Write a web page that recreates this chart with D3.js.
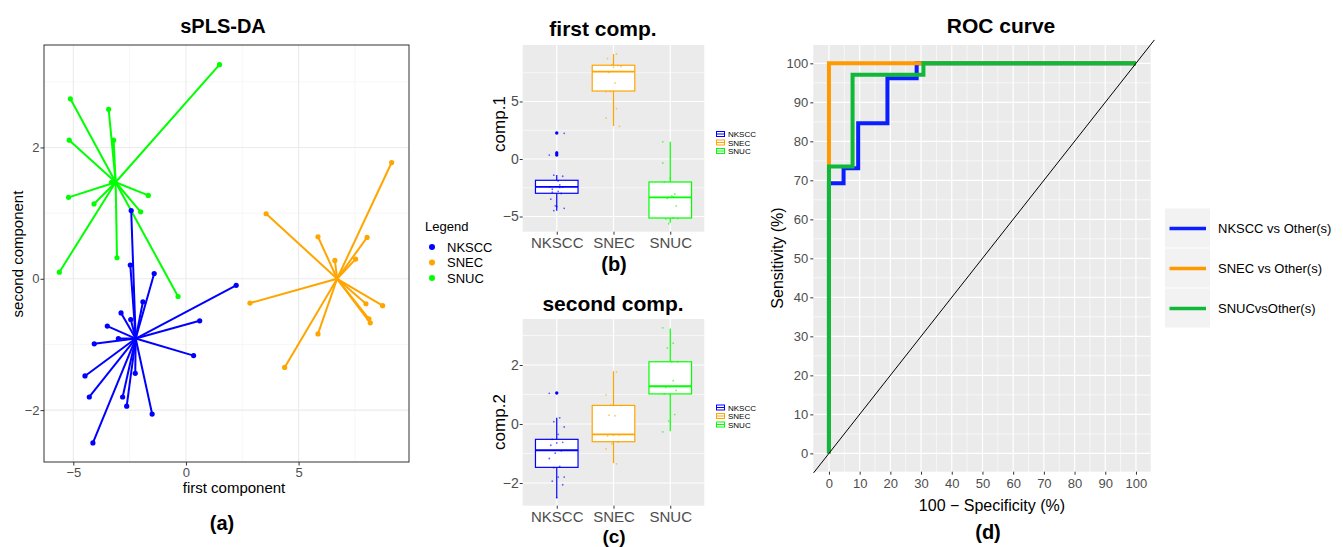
<!DOCTYPE html>
<html>
<head>
<meta charset="utf-8">
<script src="https://cdn.jsdelivr.net/npm/d3@7"></script>
<style>
  body { margin: 0; background: #fff; }
  svg text { font-family: 'Liberation Sans', Arial, sans-serif; }
</style>
</head>
<body>
<div id="chart-area"></div>
<script>
// groups and colours
var groups = ["NKSCC", "SNEC", "SNUC"];
var groupColors = ["#0000ff", "#ffa500", "#00ff00"];

// sPLS-DA scores
var nksccComp1 = [-2.43, -2.47, -1.41, 2.23, -1.91, -2.88, -2.45, 0.61, -3.49, -3.00, -4.07, 0.34, -2.25, -4.48, -4.29, -2.81, -2.63, -1.50, -4.13];
var nksccComp2 = [1.04, 0.21, 0.08, -0.10, -0.35, -0.52, -0.62, -0.64, -0.72, -0.91, -0.99, -1.17, -1.44, -1.48, -1.80, -1.80, -1.94, -2.06, -2.50];
var snecComp1 = [3.56, 9.13, 5.86, 8.04, 6.61, 7.53, 2.84, 7.99, 8.73, 8.12, 8.18, 5.86, 4.38];
var snecComp2 = [0.99, 1.77, 0.64, 0.63, 0.28, 0.30, -0.37, -0.38, -0.41, -0.61, -0.67, -0.84, -1.35];
var snucComp1 = [1.49, -5.13, -3.43, -5.18, -3.21, -5.21, -4.08, -1.67, -2.01, -3.06, -5.62, -0.35, -3.30];
var snucComp2 = [3.26, 2.74, 2.58, 2.11, 2.11, 1.24, 1.14, 1.27, 1.02, 0.32, 0.10, -0.27, 1.47];
var centroidComp1 = [-2.23, 6.71, -3.12];
var centroidComp2 = [-0.91, 0.00, 1.47];

// box plot statistics (b) and (c)
var comp1Lower = [-4.50, 2.87, -5.54];
var comp1Q1 = [-2.98, 5.91, -5.13];
var comp1Median = [-2.43, 7.59, -3.33];
var comp1Q3 = [-1.85, 8.15, -2.00];
var comp1Upper = [-1.39, 9.13, 1.50];
var comp1Outliers = [[2.26, 0.52, 0.35], [], []];
var comp2Lower = [-2.51, -1.33, -0.25];
var comp2Q1 = [-1.47, -0.60, 1.02];
var comp2Median = [-0.89, -0.35, 1.28];
var comp2Q3 = [-0.52, 0.63, 2.11];
var comp2Upper = [0.21, 1.79, 3.24];
var comp2Outliers = [[1.05], [], []];

// ROC curves (100 - specificity, sensitivity)
var rocNames = ["NKSCC vs Other(s)", "SNEC vs Other(s)", "SNUCvsOther(s)"];
var rocColors = ["#0a1eff", "#ff9900", "#10b83a"];
var nksccFpr = [0, 0, 4.76, 4.76, 9.52, 9.52, 19.05, 19.05, 28.57, 28.57, 100];
var nksccTpr = [0, 69.23, 69.23, 73.08, 73.08, 84.62, 84.62, 96.15, 96.15, 100, 100];
var snecFpr = [0, 0, 100];
var snecTpr = [0, 100, 100];
var snucFpr = [0, 0, 7.69, 7.69, 30.77, 30.77, 100];
var snucTpr = [0, 73.53, 73.53, 97.06, 97.06, 100, 100];
var diagonal = [-5, 106];

// tick values
var aTicksX = [-5, 0, 5], aMinorX = [-2.5, 2.5, 7.5];
var aTicksY = [-2, 0, 2], aMinorY = [-1, 1, 3];
var bTicksY = [-5, 0, 5], bMinorY = [-2.5, 2.5, 7.5];
var cTicksY = [-2, 0, 2], cMinorY = [-1, 1, 3];
var dTicks = d3.range(0, 101, 10), dMinor = d3.range(5, 100, 10);

var svg = d3.select("#chart-area").append("svg")
    .attr("width", 1343).attr("height", 547);

function fmt(d) { return d < 0 ? "\u2212" + Math.abs(d) : "" + d; }

function styleAxis(ax, size, color) {
    ax.select(".domain").remove();
    ax.selectAll(".tick line").attr("stroke", "#333");
    ax.selectAll(".tick text").attr("fill", color || "#4d4d4d")
        .style("font-size", size + "px");
}

function title(txt, x, y, size) {
    svg.append("text").text(txt).attr("x", x).attr("y", y)
        .attr("text-anchor", "middle").attr("font-weight", "bold")
        .style("font-size", size + "px");
}

function label(txt, x, y, size, rotate) {
    var t = svg.append("text").text(txt).attr("text-anchor", "middle")
        .style("font-size", size + "px");
    if (rotate) t.attr("transform", "translate(" + x + "," + y + ") rotate(-90)");
    else t.attr("x", x).attr("y", y);
}

// ---------- panel (a) ----------
var xA = d3.scaleLinear().domain([-6.3, 9.9]).range([44, 409]);
var yA = d3.scaleLinear().domain([-2.79, 3.56]).range([462, 45]);
var gA = svg.append("g");

gA.selectAll(".vminor").data(aMinorX).enter().append("line")
    .attr("x1", xA).attr("x2", xA).attr("y1", 45).attr("y2", 462)
    .attr("stroke", "#f2f2f2").attr("stroke-width", 0.7);
gA.selectAll(".hminor").data(aMinorY).enter().append("line")
    .attr("y1", yA).attr("y2", yA).attr("x1", 44).attr("x2", 409)
    .attr("stroke", "#f2f2f2").attr("stroke-width", 0.7);
gA.selectAll(".vmajor").data(aTicksX).enter().append("line")
    .attr("x1", xA).attr("x2", xA).attr("y1", 45).attr("y2", 462)
    .attr("stroke", "#ebebeb").attr("stroke-width", 1.1);
gA.selectAll(".hmajor").data(aTicksY).enter().append("line")
    .attr("y1", yA).attr("y2", yA).attr("x1", 44).attr("x2", 409)
    .attr("stroke", "#ebebeb").attr("stroke-width", 1.1);

var scoreSets = [
    { c1: nksccComp1, c2: nksccComp2 },
    { c1: snecComp1, c2: snecComp2 },
    { c1: snucComp1, c2: snucComp2 }
];
var drawOrder = [1, 2, 0];
drawOrder.forEach(function(gi) {
    var s = scoreSets[gi];
    var pts = s.c1.map(function(v, i) { return { x: v, y: s.c2[i] }; });
    var grp = gA.append("g");
    grp.selectAll("line").data(pts).enter().append("line")
        .attr("x1", xA(centroidComp1[gi])).attr("y1", yA(centroidComp2[gi]))
        .attr("x2", function(d) { return xA(d.x); })
        .attr("y2", function(d) { return yA(d.y); })
        .attr("stroke", groupColors[gi]).attr("stroke-width", 2);
    grp.selectAll("circle").data(pts).enter().append("circle")
        .attr("cx", function(d) { return xA(d.x); })
        .attr("cy", function(d) { return yA(d.y); })
        .attr("r", 2.6).attr("fill", groupColors[gi]);
});

gA.append("rect").attr("x", 44).attr("y", 45).attr("width", 365).attr("height", 417)
    .attr("fill", "none").attr("stroke", "#333").attr("stroke-width", 1);

var axA = gA.append("g").attr("transform", "translate(0,462)")
    .call(d3.axisBottom(xA).tickValues(aTicksX).tickFormat(fmt).tickSize(3.5).tickPadding(2));
styleAxis(axA, 13);
var ayA = gA.append("g").attr("transform", "translate(44,0)")
    .call(d3.axisLeft(yA).tickValues(aTicksY).tickFormat(fmt).tickSize(3.5).tickPadding(1));
styleAxis(ayA, 13);

title("sPLS-DA", 223, 33, 20);
label("first component", 234, 493, 15);
label("second component", 23, 254, 15, true);
title("(a)", 222, 530, 20);

// legend (a)
svg.append("text").text("Legend").attr("x", 425).attr("y", 231).style("font-size", "13px");
groups.forEach(function(g, i) {
    svg.append("circle").attr("cx", 432).attr("cy", 247 + i * 15.5).attr("r", 3).attr("fill", groupColors[i]);
    svg.append("text").text(g).attr("x", 447).attr("y", 251.5 + i * 15.5).style("font-size", "13px");
});

// ---------- panels (b) and (c) ----------
function boxPanel(opt) {
    var x = d3.scalePoint().domain(groups).range([522.7, 704.3]).padding(0.6);
    var y = d3.scaleLinear().domain(opt.domain).range([opt.bottom, opt.top]);
    var g = svg.append("g");
    g.append("rect").attr("x", 522.7).attr("y", opt.top).attr("width", 181.6)
        .attr("height", opt.bottom - opt.top).attr("fill", "#ebebeb");
    g.selectAll(".minor").data(opt.minor).enter().append("line")
        .attr("x1", 522.7).attr("x2", 704.3).attr("y1", y).attr("y2", y)
        .attr("stroke", "#fff").attr("stroke-width", 0.6);
    g.selectAll(".major").data(opt.ticks).enter().append("line")
        .attr("x1", 522.7).attr("x2", 704.3).attr("y1", y).attr("y2", y)
        .attr("stroke", "#fff").attr("stroke-width", 1.2);
    g.selectAll(".vmajor").data(groups).enter().append("line")
        .attr("x1", x).attr("x2", x).attr("y1", opt.top).attr("y2", opt.bottom)
        .attr("stroke", "#fff").attr("stroke-width", 1.2);

    var bw = x.step() * 0.75;
    groups.forEach(function(grp, i) {
        var cx = x(grp), col = groupColors[i];
        g.append("line").attr("x1", cx).attr("x2", cx)
            .attr("y1", y(opt.upper[i])).attr("y2", y(opt.q3[i]))
            .attr("stroke", col).attr("stroke-width", 1.2);
        g.append("line").attr("x1", cx).attr("x2", cx)
            .attr("y1", y(opt.q1[i])).attr("y2", y(opt.lower[i]))
            .attr("stroke", col).attr("stroke-width", 1.2);
        g.append("rect").attr("x", cx - bw / 2).attr("width", bw)
            .attr("y", y(opt.q3[i])).attr("height", y(opt.q1[i]) - y(opt.q3[i]))
            .attr("fill", "#fff").attr("stroke", col).attr("stroke-width", 1.2);
        g.append("line").attr("x1", cx - bw / 2).attr("x2", cx + bw / 2)
            .attr("y1", y(opt.median[i])).attr("y2", y(opt.median[i]))
            .attr("stroke", col).attr("stroke-width", 1.8);
        g.selectAll(".out" + i).data(opt.outliers[i]).enter().append("circle")
            .attr("cx", cx).attr("cy", y).attr("r", 1.7).attr("fill", col);
        g.selectAll(".pt" + i).data(opt.points[i]).enter().append("circle")
            .attr("cx", function(d, j) { return cx + (((j * 7) % 11) / 10 - 0.5) * bw * 0.35; })
            .attr("cy", y).attr("r", 0.9).attr("fill", col).attr("opacity", 0.6);
    });

    var ax = g.append("g").attr("transform", "translate(0," + opt.bottom + ")")
        .call(d3.axisBottom(x).tickSize(3).tickPadding(3));
    styleAxis(ax, 15);
    var ay = g.append("g").attr("transform", "translate(522.7,0)")
        .call(d3.axisLeft(y).tickValues(opt.ticks).tickFormat(fmt).tickSize(3).tickPadding(1));
    styleAxis(ay, 14);

    // small legend
    groups.forEach(function(grp, i) {
        var ly = opt.legendY + i * 8.5;
        g.append("rect").attr("x", 716.5).attr("y", ly - 2.5).attr("width", 8).attr("height", 5)
            .attr("fill", "#fff").attr("stroke", groupColors[i]).attr("stroke-width", 1);
        g.append("line").attr("x1", 716.5).attr("x2", 724.5).attr("y1", ly).attr("y2", ly)
            .attr("stroke", groupColors[i]).attr("stroke-width", 1);
        g.append("text").text(grp).attr("x", 728).attr("y", ly + 3).style("font-size", "8px");
    });
}

boxPanel({
    domain: [-6.32, 9.91], top: 45, bottom: 231.7,
    ticks: bTicksY, minor: bMinorY,
    lower: comp1Lower, q1: comp1Q1, median: comp1Median, q3: comp1Q3, upper: comp1Upper,
    outliers: comp1Outliers, points: [nksccComp1, snecComp1, snucComp1], legendY: 134
});
boxPanel({
    domain: [-2.77, 3.56], top: 319, bottom: 505.7,
    ticks: cTicksY, minor: cMinorY,
    lower: comp2Lower, q1: comp2Q1, median: comp2Median, q3: comp2Q3, upper: comp2Upper,
    outliers: comp2Outliers, points: [nksccComp2, snecComp2, snucComp2], legendY: 407.5
});

title("first comp.", 603, 36, 21);
title("second comp.", 613, 310.5, 21);
label("comp.1", 505, 124, 17, true);
label("comp.2", 505, 422, 17, true);
title("(b)", 614, 271, 20);
title("(c)", 614, 543, 19);

// ---------- panel (d) ----------
var xD = d3.scaleLinear().domain([-5.1, 104.8]).range([813.3, 1150.7]);
var yD = d3.scaleLinear().domain([-4.7, 104.7]).range([471.7, 45]);
var gD = svg.append("g");
gD.append("rect").attr("x", 813.3).attr("y", 45).attr("width", 337.4).attr("height", 426.7)
    .attr("fill", "#ebebeb");
gD.selectAll(".vminor").data(dMinor).enter().append("line")
    .attr("x1", xD).attr("x2", xD).attr("y1", 45).attr("y2", 471.7)
    .attr("stroke", "#fff").attr("stroke-width", 0.6);
gD.selectAll(".hminor").data(dMinor).enter().append("line")
    .attr("y1", yD).attr("y2", yD).attr("x1", 813.3).attr("x2", 1150.7)
    .attr("stroke", "#fff").attr("stroke-width", 0.6);
gD.selectAll(".vmajor").data(dTicks).enter().append("line")
    .attr("x1", xD).attr("x2", xD).attr("y1", 45).attr("y2", 471.7)
    .attr("stroke", "#fff").attr("stroke-width", 1.2);
gD.selectAll(".hmajor").data(dTicks).enter().append("line")
    .attr("y1", yD).attr("y2", yD).attr("x1", 813.3).attr("x2", 1150.7)
    .attr("stroke", "#fff").attr("stroke-width", 1.2);

var rocLine = d3.line().x(function(d) { return xD(d[0]); }).y(function(d) { return yD(d[1]); });
var rocSets = [[nksccFpr, nksccTpr], [snecFpr, snecTpr], [snucFpr, snucTpr]];
rocSets.forEach(function(s, i) {
    var pts = s[0].map(function(v, j) { return [v, s[1][j]]; });
    gD.append("path").datum(pts).attr("d", rocLine)
        .attr("fill", "none").attr("stroke", rocColors[i]).attr("stroke-width", 4)
        .attr("stroke-linejoin", "miter");
});
gD.append("path").datum(diagonal.map(function(v) { return [v, v]; })).attr("d", rocLine)
    .attr("fill", "none").attr("stroke", "#000").attr("stroke-width", 1);

var axD = gD.append("g").attr("transform", "translate(0,471.7)")
    .call(d3.axisBottom(xD).tickValues(dTicks).tickSize(3).tickPadding(4));
styleAxis(axD, 13);
var ayD = gD.append("g").attr("transform", "translate(813.3,0)")
    .call(d3.axisLeft(yD).tickValues(dTicks).tickSize(3).tickPadding(2));
styleAxis(ayD, 13);

title("ROC curve", 1001, 33, 21);
label("100 \u2212 Specificity (%)", 992, 511, 16);
label("Sensitivity (%)", 783, 258, 16, true);
title("(d)", 988, 538.5, 20);

// legend (d)
rocNames.forEach(function(n, i) {
    var ky = 208.5 + i * 40;
    svg.append("rect").attr("x", 1165).attr("y", ky).attr("width", 45).attr("height", 39)
        .attr("fill", "#f2f2f2");
    svg.append("line").attr("x1", 1169.5).attr("x2", 1206).attr("y1", ky + 20).attr("y2", ky + 20)
        .attr("stroke", rocColors[i]).attr("stroke-width", 3.5);
    svg.append("text").text(n).attr("x", 1218).attr("y", ky + 24.5).style("font-size", "13px");
});
</script>
</body>
</html>
